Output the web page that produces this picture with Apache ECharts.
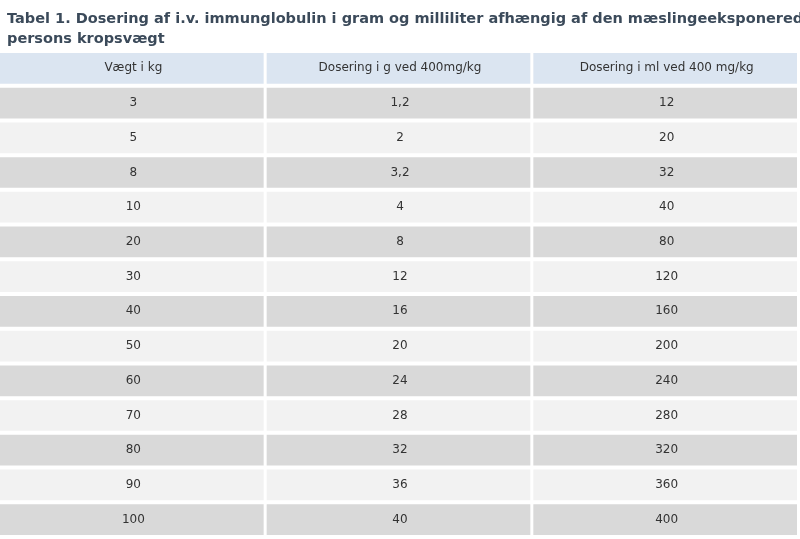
<!DOCTYPE html>
<html><head><meta charset="utf-8">
<script src="https://cdn.jsdelivr.net/npm/echarts@6/dist/echarts.min.js"></script>
<style>html,body{margin:0;padding:0;background:#fff}#c{width:800px;height:539px}</style>
</head><body><div id="c"></div>
<script>
const title = 'Tabel 1. Dosering af i.v. immunglobulin i gram og milliliter afhængig af den mæslingeeksponerede\npersons kropsvægt';
const headers = ['Vægt i kg', 'Dosering i g ved 400mg/kg', 'Dosering i ml ved 400 mg/kg'];
const weights = ['3', '5', '8', '10', '20', '30', '40', '50', '60', '70', '80', '90', '100'];
const grams = ['1,2', '2', '3,2', '4', '8', '12', '16', '20', '24', '28', '32', '36', '40'];
const millis = ['12', '20', '32', '40', '80', '120', '160', '200', '240', '280', '320', '360', '400'];

const rows = ['h'].concat(weights.map((w, i) => 'r' + i));
const cells = [];
headers.forEach((h, c) => cells.push([c, 0, h]));
[weights, grams, millis].forEach((col, c) => col.forEach((v, i) => cells.push([c, i + 1, v])));

const chart = echarts.init(document.getElementById('c'));
chart.setOption({
  animation: false,
  title: { text: title, left: 2, top: 4, textStyle: { fontFamily: 'DejaVu Sans', fontWeight: 'bold', fontSize: 14.5, color: '#3b4a5a', lineHeight: 20 } },
  grid: { left: 0, right: 0, top: 53, bottom: 0 },
  xAxis: { type: 'category', data: headers, show: false },
  yAxis: { type: 'category', data: rows, inverse: true, show: false },
  series: [{
    type: 'custom',
    data: cells,
    renderItem: (params, api) => {
      const c = api.value(0), r = api.value(1);
      const p = api.coord([c, r]);
      const sz = api.size([1, 1]);
      const x0 = p[0] - sz[0] / 2, y0 = p[1] - sz[1] / 2;
      const fill = r === 0 ? '#dbe5f1' : (r % 2 === 1 ? '#d9d9d9' : '#f2f2f2');
      return {
        type: 'group',
        children: [
          { type: 'rect', shape: { x: x0, y: y0, width: sz[0] - 3, height: sz[1] - 4 }, style: { fill } },
          { type: 'text', style: { text: cells[params.dataIndex][2], x: p[0], y: p[1] - 2, align: 'center', verticalAlign: 'middle', fill: '#333', font: '12px "DejaVu Sans"' } }
        ]
      };
    }
  }]
});
</script></body></html>
